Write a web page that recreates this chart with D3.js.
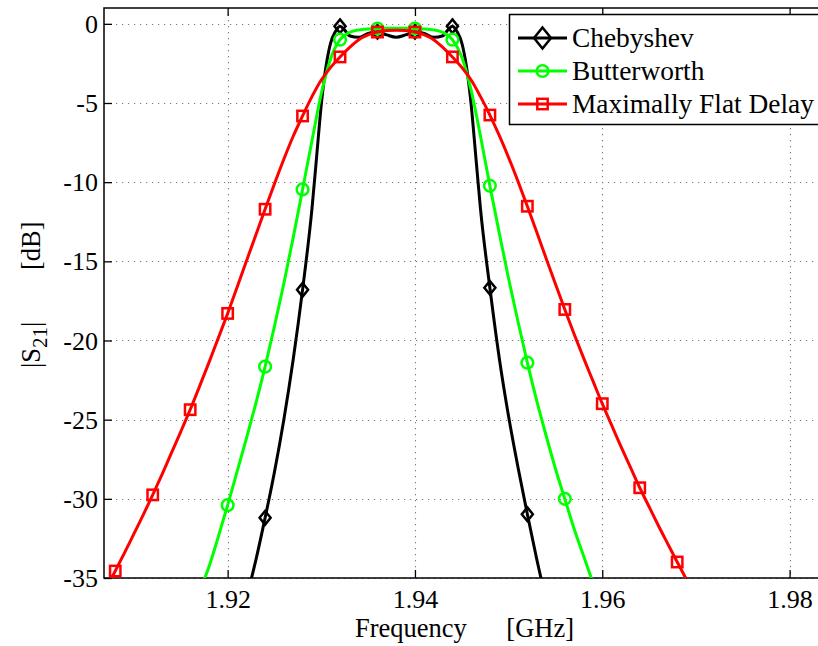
<!DOCTYPE html>
<html><head><meta charset="utf-8">
<script src="https://cdn.jsdelivr.net/npm/d3@7"></script>
</head>
<body style="margin:0">
<svg id="chart" width="818" height="646" style="display:block"></svg>
<script>
// ---- data ----
const xTicks = [1.92, 1.94, 1.96, 1.98];
const yTicks = [0, -5, -10, -15, -20, -25, -30, -35];
const seriesNames = ["Chebyshev", "Butterworth", "Maximally Flat Delay"];

const chebFreq = [1.922,1.923,1.924,1.925,1.926,1.927,1.928,1.929,1.9295,1.930,1.9305,1.931,1.9315,1.932,1.9325,1.933,1.934,1.935,1.936,1.937,1.938,1.939,1.940,1.941,1.942,1.943,1.9435,1.944,1.9445,1.945,1.9455,1.946,1.9465,1.947,1.948,1.949,1.950,1.951,1.952,1.953,1.954];
const chebDB   = [-36.3,-33.9,-31.2,-28.3,-25.0,-21.2,-16.8,-11.7,-8.4,-5.1,-2.7,-1.2,-0.5,-0.15,-0.4,-0.75,-0.85,-0.6,-0.5,-0.7,-0.85,-0.7,-0.5,-0.6,-0.85,-0.75,-0.4,-0.15,-0.5,-1.2,-2.7,-5.1,-8.4,-11.7,-16.67,-21.1,-24.8,-28.0,-30.97,-33.8,-36.4];

const butFreq = [1.917,1.918,1.919,1.920,1.921,1.922,1.923,1.924,1.925,1.926,1.927,1.928,1.929,1.930,1.931,1.932,1.933,1.934,1.935,1.936,1.937,1.938,1.939,1.940,1.941,1.942,1.943,1.944,1.945,1.946,1.947,1.948,1.949,1.950,1.951,1.952,1.953,1.954,1.955,1.956,1.957,1.958,1.959];
const butDB   = [-35.8,-34.3,-32.4,-30.4,-28.3,-26.2,-24.0,-21.65,-19.1,-16.4,-13.5,-10.46,-7.4,-4.4,-2.2,-1.0,-0.55,-0.38,-0.32,-0.3,-0.28,-0.28,-0.28,-0.3,-0.32,-0.38,-0.55,-1.0,-2.1,-4.2,-7.1,-10.23,-13.2,-16.1,-18.8,-21.4,-23.8,-26.0,-28.1,-30.0,-31.9,-33.6,-35.3];

const mfdFreq = [1.907,1.908,1.909,1.910,1.911,1.912,1.913,1.914,1.915,1.916,1.917,1.918,1.919,1.920,1.921,1.922,1.923,1.924,1.925,1.926,1.927,1.928,1.929,1.930,1.931,1.932,1.933,1.934,1.935,1.936,1.937,1.938,1.939,1.940,1.941,1.942,1.943,1.944,1.945,1.946,1.947,1.948,1.949,1.950,1.951,1.952,1.953,1.954,1.955,1.956,1.957,1.958,1.959,1.960,1.961,1.962,1.963,1.964,1.965,1.966,1.967,1.968,1.969];
const mfdDB   = [-35.7,-34.56,-33.4,-32.2,-31.0,-29.75,-28.45,-27.1,-25.75,-24.37,-22.9,-21.4,-19.85,-18.29,-16.65,-15.0,-13.35,-11.71,-10.1,-8.55,-7.1,-5.82,-4.6,-3.55,-2.75,-2.09,-1.5,-1.0,-0.7,-0.52,-0.42,-0.4,-0.42,-0.52,-0.7,-1.0,-1.5,-2.09,-2.75,-3.55,-4.6,-5.76,-7.05,-8.45,-9.95,-11.52,-13.15,-14.8,-16.43,-18.04,-19.6,-21.1,-22.55,-23.99,-25.35,-26.7,-28.0,-29.3,-30.5,-31.7,-32.85,-33.99,-35.1];

// markers every 0.004 GHz starting from 1.908
const markerStart = 1.908, markerStep = 0.004;

// ---- layout ----
const FONT = "'Liberation Serif', Tinos, 'Times New Roman', Times, serif";
const svg = d3.select("#chart");
const L = 104, T = 8, B = 578, R = 830;
const x = d3.scaleLinear().domain([1.9068, 1.9068 + (R - L) / 9366]).range([L, R]);
const y = d3.scaleLinear().domain([-35, 1]).range([B, T]);

function txt(sel, size){
  return sel.style("font-family", FONT).style("font-size", size + "px").attr("fill", "#000");
}

svg.append("defs").append("clipPath").attr("id","clip")
  .append("rect").attr("x",L).attr("y",T).attr("width",R-L).attr("height",B-T);

// grid
const grid = svg.append("g").attr("stroke","#7a7a7a").attr("stroke-width",1.1).attr("stroke-dasharray","1.2,4.8");
grid.selectAll(".gx").data(xTicks).join("line")
  .attr("x1",d=>Math.round(x(d))+0.5).attr("x2",d=>Math.round(x(d))+0.5).attr("y1",T).attr("y2",B);
grid.selectAll(".gy").data(yTicks).join("line")
  .attr("y1",d=>Math.round(y(d))+0.5).attr("y2",d=>Math.round(y(d))+0.5).attr("x1",L).attr("x2",R);

// axes (MATLAB style inward ticks)
const xAxisB = d3.axisBottom(x).tickValues(xTicks).tickSizeInner(-8).tickSizeOuter(0).tickPadding(14).tickFormat(d3.format(".2f"));
const gxb = svg.append("g").attr("transform",`translate(0,${B})`).call(xAxisB);
const xAxisT = d3.axisTop(x).tickValues(xTicks).tickSizeInner(-8).tickSizeOuter(0).tickFormat("");
const gxt = svg.append("g").attr("transform",`translate(0,${T})`).call(xAxisT);
const yAxisL = d3.axisLeft(y).tickValues(yTicks).tickSizeInner(-8).tickSizeOuter(0).tickPadding(6).tickFormat(d3.format("d"));
const gyl = svg.append("g").attr("transform",`translate(${L},0)`).call(yAxisL);
[gxb,gxt,gyl].forEach(g=>{
  g.attr("font-family",null).attr("font-size",null);
  g.select(".domain").remove();
  g.selectAll(".tick line").attr("stroke","#000").attr("stroke-width",1.3);
  txt(g.selectAll("text"), 26);
});
gxb.selectAll("text").attr("dy","0.6em");
gyl.selectAll("text").attr("dy","0.33em").text(d=> d===0 ? "0" : "-" + Math.abs(d));

// frame
svg.append("path").attr("d",`M${R},${T}H${L}V${B}H${R}`).attr("fill","none").attr("stroke","#000").attr("stroke-width",1.5);

// series
const series = [
  {name:seriesNames[0], f:chebFreq, v:chebDB, color:"#000000", marker:"diamond"},
  {name:seriesNames[1], f:butFreq,  v:butDB,  color:"#00ff00", marker:"circle"},
  {name:seriesNames[2], f:mfdFreq,  v:mfdDB,  color:"#ff0000", marker:"square"}
];
const line = d3.line().x(d=>x(d[0])).y(d=>y(d[1])).curve(d3.curveMonotoneX);
const plot = svg.append("g").attr("clip-path","url(#clip)");

function drawMarker(g, type, cx, cy, color, s){
  if(type==="diamond"){
    g.append("path").attr("d",`M${cx},${cy-s*1.05}L${cx+s*0.85},${cy}L${cx},${cy+s*1.05}L${cx-s*0.85},${cy}Z`)
      .attr("fill","none").attr("stroke",color).attr("stroke-width",2.5);
  } else if(type==="circle"){
    g.append("circle").attr("cx",cx).attr("cy",cy).attr("r",s*0.9)
      .attr("fill","none").attr("stroke",color).attr("stroke-width",2.5);
  } else {
    const h = s*0.8;
    g.append("rect").attr("x",cx-h).attr("y",cy-h).attr("width",2*h).attr("height",2*h)
      .attr("fill","none").attr("stroke",color).attr("stroke-width",2.5);
  }
}

series.forEach(s=>{
  const pts = s.f.map((f,i)=>[f,s.v[i]]);
  plot.append("path").datum(pts).attr("d",line).attr("fill","none")
    .attr("stroke",s.color).attr("stroke-width",3).attr("stroke-linejoin","round");
  const mk = pts.filter(p=>{const k=(p[0]-markerStart)/markerStep; return Math.abs(k-Math.round(k))<1e-6;});
  const mg = plot.append("g");
  mk.forEach(p=>drawMarker(mg, s.marker, x(p[0]), y(p[1]), s.color, 6.5));
});

// legend
const lg = svg.append("g");
lg.append("rect").attr("x",509.5).attr("y",14.5).attr("width",316).attr("height",110)
  .attr("fill","#fff").attr("stroke","#000").attr("stroke-width",1.5);
const rowsY = [38, 71, 104];
series.forEach((s,i)=>{
  lg.append("line").attr("x1",518).attr("x2",567).attr("y1",rowsY[i]).attr("y2",rowsY[i])
    .attr("stroke",s.color).attr("stroke-width",3);
  drawMarker(lg, s.marker, 542.5, rowsY[i], s.color, s.marker==="diamond"?10:6.5);
  txt(lg.append("text").attr("x",572).attr("y",rowsY[i]).attr("dy","0.33em"), 27.4).text(s.name);
});

// axis labels
txt(svg.append("text").attr("x",355).attr("y",637), 26.5).text("Frequency");
txt(svg.append("text").attr("x",574).attr("y",637).attr("text-anchor","end"), 26.5).text("[GHz]");
const yl1 = txt(svg.append("text").attr("transform","rotate(-90)").attr("x",-368).attr("y",40), 26.5);
yl1.append("tspan").text("|S");
yl1.append("tspan").style("font-size","21px").attr("dy",7).text("21");
yl1.append("tspan").attr("dy",-7).text("|");
txt(svg.append("text").attr("transform","rotate(-90)").attr("x",-270).attr("y",40), 26.5).text("[dB]");
</script>
</body></html>
